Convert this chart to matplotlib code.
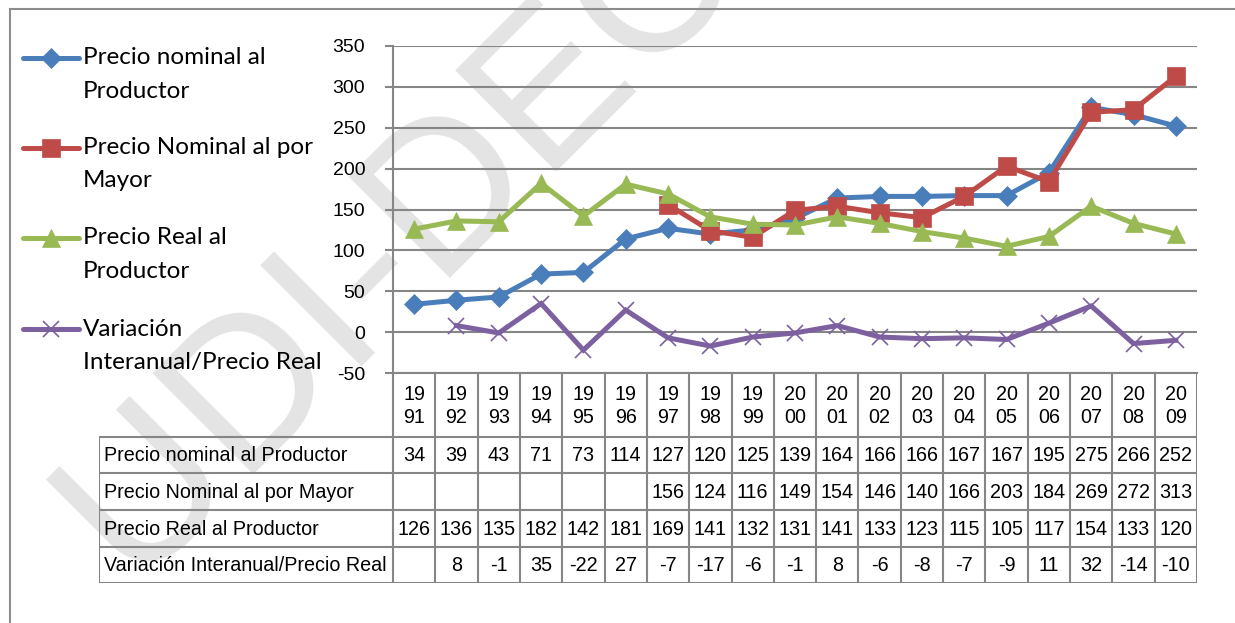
import textwrap
import numpy as np
import matplotlib
matplotlib.use("Agg")
import matplotlib.pyplot as plt
from matplotlib.lines import Line2D

# datos
years = [str(y) for y in range(1991, 2010)]
names = ["Precio nominal al Productor",
         "Precio Nominal al por Mayor",
         "Precio Real al Productor",
         "Variación Interanual/Precio Real"]
nominal_productor = [34, 39, 43, 71, 73, 114, 127, 120, 125, 139, 164, 166, 166, 167, 167, 195, 275, 266, 252]
nominal_mayor = [None, None, None, None, None, None, 156, 124, 116, 149, 154, 146, 140, 166, 203, 184, 269, 272, 313]
real_productor = [126, 136, 135, 182, 142, 181, 169, 141, 132, 131, 141, 133, 123, 115, 105, 117, 154, 133, 120]
variacion = [None, 8, -1, 35, -22, 27, -7, -17, -6, -1, 8, -6, -8, -7, -9, 11, 32, -14, -10]
yticks = [-50, 0, 50, 100, 150, 200, 250, 300, 350]

series = [nominal_productor, nominal_mayor, real_productor, variacion]
colors = ["#4A7EBB", "#BE4B48", "#98B954", "#7D60A0"]
markers = ["D", "s", "^", "x"]
msizes = [10, 13, 13, 12]

W, H = 1235, 623
narrow = ["Liberation Sans Narrow", "Liberation Sans"]
grid_col = "#868686"
fs_tab = 14.2


def fx(x):
    return x / W


def fy(y):
    return 1 - y / H


fig = plt.figure(figsize=(W / 100, H / 100), dpi=100)

# marco
fig.add_artist(Line2D([fx(10), fx(10)], [fy(9), fy(H)], color="#8c8c8c", lw=1.5))
fig.add_artist(Line2D([fx(10), fx(W)], [fy(9), fy(9)], color="#8c8c8c", lw=1.5))

# marca de agua
fig.text(fx(400), fy(235), "UDI-DEC", rotation=45, fontsize=150,
         family="Liberation Sans", color="#e4e4e4", ha="center", va="center", zorder=-5)

# grafico
x0, x1, ytop, ybot = 393, 1197, 46, 373
ax = fig.add_axes([fx(x0), fy(ybot), fx(x1 - x0), (ybot - ytop) / H])
ax.set_facecolor("none")
n = len(years)
xs = np.arange(n)
for vals, c, m, ms in zip(series, colors, markers, msizes):
    v = np.array([np.nan if a is None else a for a in vals], dtype=float)
    ax.plot(xs, v, color=c, lw=3.6, marker=m, markersize=ms,
            markerfacecolor=c, markeredgecolor=c, markeredgewidth=1.2 if m == "x" else 0.5,
            solid_joinstyle="miter", zorder=3)
ax.set_xlim(-0.5, n - 0.5)
ax.set_ylim(-50, 350)
ax.set_yticks(yticks)
ax.set_yticklabels([str(t) for t in yticks], family=narrow, fontsize=14)
ax.set_xticks([])
ax.grid(axis="y", color=grid_col, lw=1.5)
ax.tick_params(axis="y", length=6, width=1.5, color=grid_col, pad=14)
for s in ["top", "right"]:
    ax.spines[s].set_visible(False)
ax.spines["left"].set_color(grid_col)
ax.spines["left"].set_linewidth(1.5)
ax.spines["bottom"].set_color(grid_col)
ax.spines["bottom"].set_linewidth(1.5)

# tabla de datos
tl = 99
colw = (x1 - x0) / n
edges = [373, 437, 473, 510, 547, 583]
tab = fig.add_axes([fx(tl), fy(583), fx(x1 - tl), (583 - 373) / H])
tab.set_facecolor("none")
tab.set_xlim(-0.5 - (x0 - tl) / colw, n - 0.5)
tab.set_ylim(583, 373)
tab.axis("off")
lkw = dict(color=grid_col, lw=1.5, solid_capstyle="projecting")
xl = -0.5 - (x0 - tl) / colw
for i in range(n + 1):
    tab.plot([i - 0.5, i - 0.5], [edges[0], edges[-1]], **lkw)
tab.plot([xl, xl], [edges[1], edges[-1]], **lkw)
for e in edges[1:]:
    tab.plot([xl, n - 0.5], [e, e], **lkw)
for i, yr in enumerate(years):
    tab.text(i, (edges[0] + edges[1]) / 2 + 1, yr[:2] + "\n" + yr[2:], ha="center", va="center",
             family=narrow, fontsize=fs_tab, linespacing=1.3)
for r, (name, vals) in enumerate(zip(names, series)):
    yc = (edges[r + 1] + edges[r + 2]) / 2 + 1
    tab.text(xl + 5 / colw, yc, name, ha="left", va="center", family=narrow, fontsize=fs_tab)
    for i, v in enumerate(vals):
        if v is not None:
            tab.text(i, yc, str(v), ha="center", va="center", family=narrow, fontsize=fs_tab)

# leyenda
leg_y = [58, 148, 238, 329]
for name, c, m, ms, yy in zip(names, colors, markers, msizes, leg_y):
    fig.add_artist(Line2D([fx(23), fx(79)], [fy(yy), fy(yy)], color=c, lw=3.6,
                          solid_capstyle="round"))
    fig.add_artist(Line2D([fx(51)], [fy(yy)], color=c, marker=m, markersize=ms,
                          markerfacecolor=c, markeredgecolor=c,
                          markeredgewidth=1.2 if m == "x" else 0.5))
    for j, line in enumerate(textwrap.wrap(name, 22)):
        fig.text(fx(83), fy(yy + j * 33), line, ha="left", va="center",
                 family=["Lato", "DejaVu Sans"], fontsize=17.5)

fig.savefig("out.png", dpi=100)
